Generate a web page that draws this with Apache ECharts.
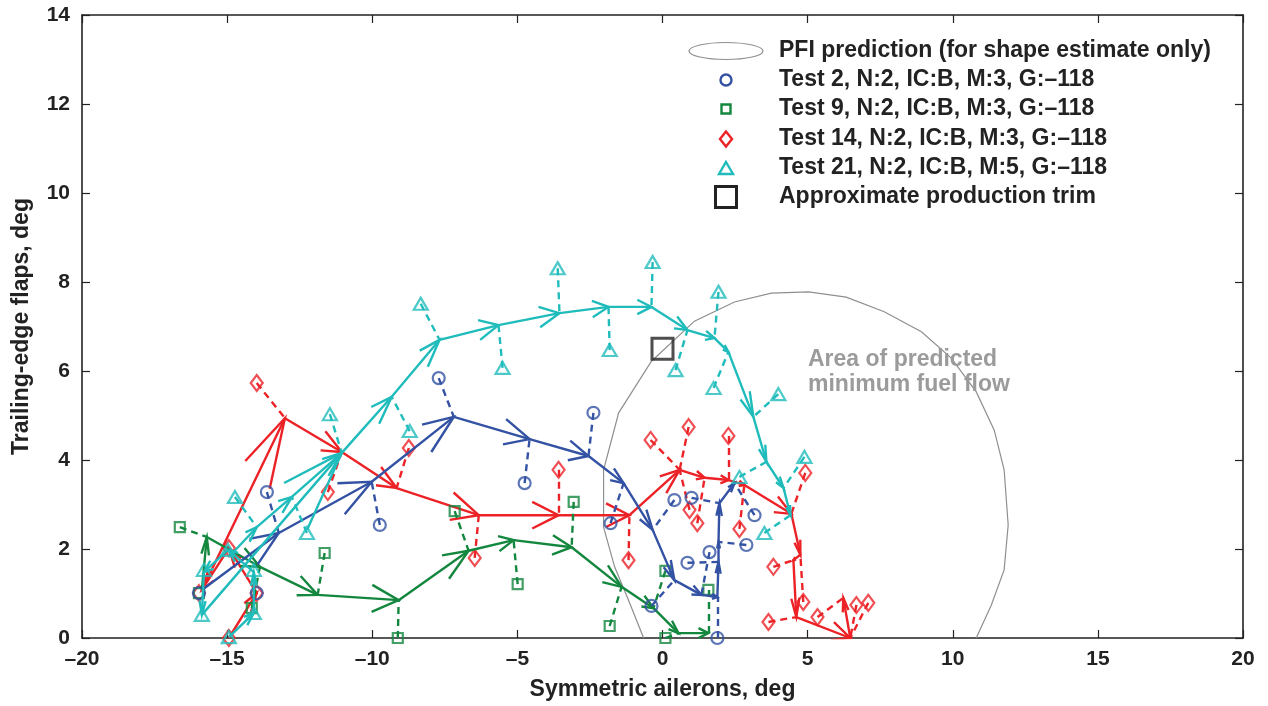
<!DOCTYPE html>
<html><head><meta charset="utf-8">
<script src="https://cdn.jsdelivr.net/npm/echarts/dist/echarts.min.js"></script>
<style>html,body{margin:0;padding:0;background:#fff}#c{width:1268px;height:706px}</style>
</head><body><div id="c"></div>
<script>
// ---------- axes ----------
const xTicks = [-20, -15, -10, -5, 0, 5, 10, 15, 20];
const yTicks = [0, 2, 4, 6, 8, 10, 12, 14];
const xName = 'Symmetric ailerons, deg';
const yName = 'Trailing-edge flaps, deg';

// ---------- PFI prediction contour ----------
const pfiContour = [[-0.65,0],[-1.17,0.85],[-1.65,1.60],[-2.03,2.49],[-2.03,3.78],[-1.51,5.06],[-0.38,6.22],
  [1.10,7.12],[2.48,7.55],[3.75,7.75],[5.03,7.78],[6.33,7.66],[7.64,7.33],[8.92,6.88],[9.95,6.29],
  [10.81,5.53],[11.43,4.67],[11.77,3.78],[11.91,2.54],[11.77,1.53],[11.33,0.74],[10.81,0]];
const productionTrim = [[0, 6.5]];

// ---------- Test 2 (circles) ----------
const t2Path = [[-15.87,1.08],[-13.22,2.36],[-10.02,3.51],[-7.19,4.97],[-4.58,4.47],[-2.55,4.09],[-1.34,3.48],
  [-0.34,2.43],[0.41,1.30],[1.34,0.97],[1.89,0.92],[1.93,1.71],[1.93,2.16],[1.96,3.03],[2.48,3.48]];
const t2Points = [[-15.97,1.01],[-13.98,1.01],[-13.63,3.28],[-9.74,2.54],[-7.71,5.84],[-4.75,3.48],[-2.38,5.06],
  [-1.79,2.58],[0.41,3.10],[-0.38,0.72],[0.86,1.69],[1.00,3.15],[1.62,1.93],[1.89,0.0],[2.89,2.09],[3.17,2.76]];
const t2Links = [-1,-1,1,2,3,4,5,6,7,8,11,13,9,10,12,14];

// ---------- Test 9 (squares) ----------
const t9Path = [[-15.87,1.08],[-15.70,2.27],[-13.87,1.60],[-11.88,0.97],[-9.09,0.85],[-6.68,1.96],[-5.13,2.20],
  [-3.13,2.04],[-1.41,1.15],[-0.31,0.67],[0.55,0.11],[1.58,0.11]];
const t9Points = [[-15.97,1.01],[-16.63,2.49],[-11.64,1.91],[-14.15,0.67],[-9.12,0.0],[-7.16,2.85],[-4.99,1.21],
  [-3.06,3.06],[-1.82,0.27],[0.10,1.51],[0.10,0.0],[1.58,1.08]];
const t9Links = [-1,1,3,2,4,5,6,7,8,9,10,11];

// ---------- Test 14 (diamonds) ----------
const t14Path = [[-14.94,0.0],[-13.98,1.01],[-14.94,2.02],[-15.87,1.08],[-13.01,4.94],[-11.05,4.18],[-9.16,3.37],
  [-6.33,2.76],[-3.58,2.76],[-1.14,2.76],[0.59,3.78],[1.45,3.60],[2.27,3.55],[2.82,3.44],[4.44,2.79],
  [4.75,1.87],[4.51,1.75],[4.61,0.47],[6.47,0.0],[6.23,0.90]];
const t14Points = [[-15.97,1.01],[-13.98,1.01],[-14.94,2.02],[-14.94,0.0],[-13.98,5.73],[-11.53,3.28],[-8.74,4.27],
  [-6.47,1.80],[-3.58,3.78],[-1.17,1.75],[-0.41,4.45],[0.90,4.74],[0.93,2.88],[1.20,2.58],[2.27,4.54],
  [2.65,2.45],[4.92,3.71],[3.82,1.60],[4.85,0.81],[3.65,0.36],[5.34,0.47],[6.68,0.74],[7.09,0.79]];
const t14Links = [-1,-1,-1,-1,4,5,6,7,8,9,10,10,10,11,12,13,14,16,15,17,19,18,18];

// ---------- Test 21 (triangles) ----------
const t21Path = [[-14.94,0.02],[-14.08,0.56],[-14.08,1.48],[-14.97,1.98],[-15.80,1.48],[-15.87,0.52],
  [-11.05,4.16],[-9.33,5.42],[-7.68,6.70],[-5.65,7.03],[-3.55,7.30],[-1.86,7.44],[-0.38,7.44],[0.86,6.92],
  [1.79,6.74],[2.27,6.43],[3.13,4.97],[3.58,3.96],[4.17,3.37],[4.41,2.76],
  null,[-14.94,1.82],[-13.98,2.49],[-12.77,3.17],[-11.05,4.16]];
const t21Points = [[-14.94,0.02],[-15.87,0.52],[-14.08,0.56],[-15.80,1.53],[-14.08,1.53],[-14.97,1.98],
  [-14.73,3.17],[-12.25,2.36],[-11.46,5.03],[-8.71,4.65],[-8.33,7.51],[-5.51,6.07],[-3.61,8.31],[-1.82,6.47],
  [-0.34,8.45],[0.45,6.02],[1.93,7.78],[1.76,5.62],[3.99,5.48],[2.65,3.62],[4.89,4.07],[3.51,2.36]];
const t21Links = [-1,-1,-1,-1,-1,-1,22,23,6,7,8,9,10,11,12,13,14,15,16,17,18,19];

const legendLabels = ['PFI prediction (for shape estimate only)','Test 2, N:2, IC:B, M:3, G:\u2013118',
  'Test 9, N:2, IC:B, M:3, G:\u2013118','Test 14, N:2, IC:B, M:3, G:\u2013118',
  'Test 21, N:2, IC:B, M:5, G:\u2013118','Approximate production trim'];
const areaLabel = 'Area of predicted\nminimum fuel flow';

// ---------- styling ----------
const FONT = '"Liberation Sans", Arial, Helvetica, sans-serif';
const C_BLUE = '#3352a3', C_GREEN = '#14873f', C_RED = '#ec2227', C_CYAN = '#20bcbc';
const ALPHA = 0.33, BETA = 0.33; // quiver arrowhead proportions (data units)

function pieces(path) {
  const out = []; let cur = [];
  path.forEach(p => { if (!p) { if (cur.length > 1) out.push({coords: cur}); cur = []; } else cur.push(p); });
  if (cur.length > 1) out.push({coords: cur});
  return out;
}
function arrows(path) {
  const out = [];
  for (let i = 1; i < path.length; i++) {
    const a = path[i-1], b = path[i];
    if (!a || !b) continue;
    const u = b[0]-a[0], v = b[1]-a[1];
    out.push({coords: [[b[0]-ALPHA*(u+BETA*v), b[1]-ALPHA*(v-BETA*u)], b,
                       [b[0]-ALPHA*(u-BETA*v), b[1]-ALPHA*(v+BETA*u)]]});
  }
  return out;
}
function links(points, idx, path) {
  const out = [];
  points.forEach((p, i) => { if (idx[i] >= 0 && path[idx[i]]) out.push({coords: [p, path[idx[i]]]}); });
  return out;
}
function testSeries(name, path, points, idx, color, symbol, size, z) {
  const base = {coordinateSystem: 'cartesian2d', silent: true, animation: false};
  return [
    Object.assign({type: 'lines', name: name+' links', polyline: false, data: links(points, idx, path), z: z,
      lineStyle: {color: color, width: 2.4, opacity: 1, type: [7, 5]}}, base),
    Object.assign({type: 'lines', name: name+' path', polyline: true, data: pieces(path), z: z+1,
      lineStyle: {color: color, width: 2.4, opacity: 1, join: 'round'}}, base),
    Object.assign({type: 'lines', name: name+' arrows', polyline: true, data: arrows(path), z: z+1,
      lineStyle: {color: color, width: 2.4, opacity: 1}}, base),
    Object.assign({type: 'scatter', name: name, data: points, symbol: symbol, symbolSize: size, z: z+2,
      itemStyle: {color: 'rgba(0,0,0,0)', borderColor: color, borderWidth: 2.2}}, base)
  ];
}

const tickFmt = v => (v < 0 ? '\u2013' + Math.abs(v) : String(v));
const axisCommon = {
  axisLine: {show: true, onZero: false, lineStyle: {color: '#222', width: 1.6}},
  axisTick: {show: true, inside: true, length: 8, lineStyle: {color: '#222', width: 1.2}},
  splitLine: {show: false}
};

const series = [
  {type: 'lines', coordinateSystem: 'cartesian2d', polyline: true, silent: true, z: 1,
   data: [{coords: pfiContour}], lineStyle: {color: '#8f8f8f', width: 1.2, opacity: 1}},
  ...testSeries('Test 14', t14Path, t14Points, t14Links, C_RED, 'diamond', [12, 16], 10),
  ...testSeries('Test 9', t9Path, t9Points, t9Links, C_GREEN, 'rect', 10, 20),
  ...testSeries('Test 2', t2Path, t2Points, t2Links, C_BLUE, 'circle', 12, 30),
  ...testSeries('Test 21', t21Path, t21Points, t21Links, C_CYAN, 'triangle', [14, 12], 40),
  {type: 'scatter', name: 'Approximate production trim', data: productionTrim, symbol: 'rect', symbolSize: 21,
   silent: true, z: 60, itemStyle: {color: 'rgba(0,0,0,0)', borderColor: '#222', borderWidth: 3}}
];

// legend drawn as graphic
const LX = 726, TX = 779, rows = [51, 80, 109, 139, 168, 197];
const legendIcons = [
  {type: 'ellipse', shape: {cx: LX, cy: rows[0], rx: 37, ry: 8.5}, style: {fill: 'none', stroke: '#8f8f8f', lineWidth: 1.2}},
  {type: 'circle', shape: {cx: LX, cy: rows[1], r: 5.5}, style: {fill: 'none', stroke: C_BLUE, lineWidth: 2.4}},
  {type: 'rect', shape: {x: LX-4.5, y: rows[2]-4.5, width: 9, height: 9}, style: {fill: 'none', stroke: C_GREEN, lineWidth: 2.4}},
  {type: 'polygon', shape: {points: [[LX, rows[3]-7.5], [LX+6, rows[3]], [LX, rows[3]+7.5], [LX-6, rows[3]]]}, style: {fill: 'none', stroke: C_RED, lineWidth: 2.4}},
  {type: 'polygon', shape: {points: [[LX, rows[4]-6], [LX+7, rows[4]+6], [LX-7, rows[4]+6]]}, style: {fill: 'none', stroke: C_CYAN, lineWidth: 2.4}},
  {type: 'rect', shape: {x: LX-10.5, y: rows[5]-10.5, width: 21, height: 21}, style: {fill: 'none', stroke: '#222', lineWidth: 3}}
];
const legendTexts = legendLabels.map((t, i) => ({type: 'text', x: TX, y: rows[i],
  style: {text: t, fill: '#222', font: 'bold 23px ' + FONT, textVerticalAlign: 'middle', verticalAlign: 'middle'}}));

const chart = echarts.init(document.getElementById('c'), null, {renderer: 'canvas'});
chart.setOption({
  animation: false,
  backgroundColor: '#fff',
  grid: {left: 82, right: 25, top: 15, bottom: 68, show: false},
  xAxis: [
    Object.assign({type: 'value', min: xTicks[0], max: xTicks[xTicks.length-1], interval: xTicks[1]-xTicks[0],
      name: xName, nameLocation: 'middle', nameGap: 40,
      nameTextStyle: {fontFamily: FONT, fontWeight: 'bold', fontSize: 23, color: '#222'},
      axisLabel: {formatter: tickFmt, fontFamily: FONT, fontWeight: 'bold', fontSize: 21, color: '#222', margin: 11}}, axisCommon),
    Object.assign({type: 'value', position: 'top', min: xTicks[0], max: xTicks[xTicks.length-1], interval: xTicks[1]-xTicks[0],
      axisLabel: {show: false}}, axisCommon)
  ],
  yAxis: [
    Object.assign({type: 'value', min: yTicks[0], max: yTicks[yTicks.length-1], interval: yTicks[1]-yTicks[0],
      name: yName, nameLocation: 'middle', nameGap: 49, nameRotate: 90,
      nameTextStyle: {fontFamily: FONT, fontWeight: 'bold', fontSize: 23, color: '#222'},
      axisLabel: {formatter: tickFmt, fontFamily: FONT, fontWeight: 'bold', fontSize: 21, color: '#222', margin: 12}}, axisCommon),
    Object.assign({type: 'value', position: 'right', min: yTicks[0], max: yTicks[yTicks.length-1], interval: yTicks[1]-yTicks[0],
      axisLabel: {show: false}}, axisCommon)
  ],
  series: series,
  graphic: [
    ...legendIcons.map(g => Object.assign({silent: true, z: 100}, g)),
    ...legendTexts.map(g => Object.assign({silent: true, z: 100}, g)),
    {type: 'text', x: 808, y: 347, silent: true, z: 100,
     style: {text: areaLabel, fill: '#9b9b9b', font: 'bold 23px ' + FONT, lineHeight: 25}}
  ]
});
</script></body></html>
